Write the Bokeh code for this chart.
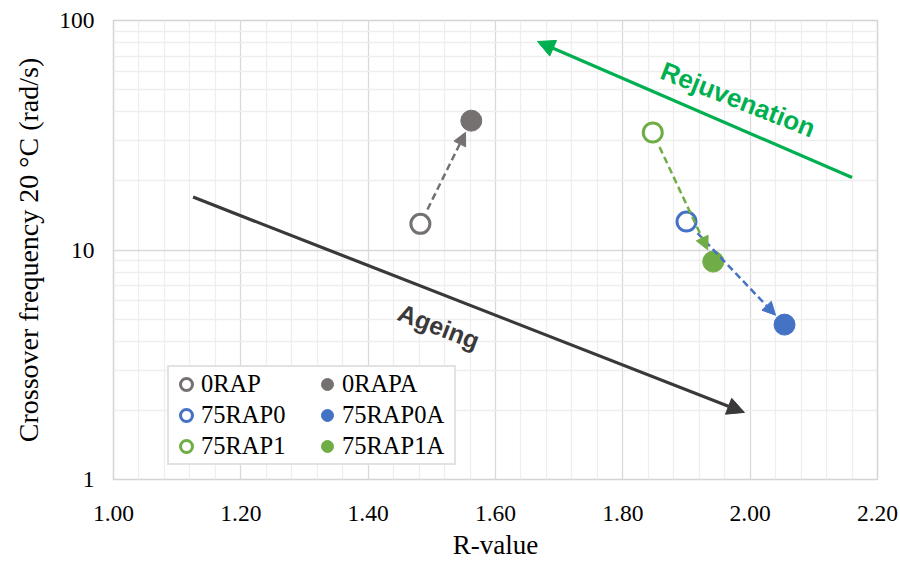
import math
from bokeh.plotting import figure
from bokeh.models import (FixedTicker, NumeralTickFormatter, Arrow, NormalHead,
                          Label, Legend, LegendItem, Range1d)
from bokeh.embed import file_html
from bokeh.resources import INLINE

# ---------------- data ----------------
samples = ["0RAP", "0RAPA", "75RAP0", "75RAP0A", "75RAP1", "75RAP1A"]
r_value = [1.482, 1.562, 1.900, 2.054, 1.847, 1.942]
crossover = [13.0, 36.6, 13.3, 4.73, 32.5, 8.9]
sample_colors = ["#767171", "#767171", "#4472c4", "#4472c4", "#70ad47", "#70ad47"]
sample_filled = [False, True, False, True, False, True]

# ageing pairs (unaged index -> aged index)
pairs = [(0, 1), (2, 3), (4, 5)]

x_ticks = [1.0, 1.2, 1.4, 1.6, 1.8, 2.0, 2.2]
y_ticks = [1, 10, 100]

# trend arrows (R-value, crossover frequency)
ageing_r = [1.125, 1.991]
ageing_f = [17.0, 1.96]
rejuv_r = [2.160, 1.666]
rejuv_f = [20.7, 81.0]

ageing_text = "Ageing"
ageing_text_pos = (1.511, 4.65)
rejuv_text = "Rejuvenation"
rejuv_text_pos = (1.981, 45.3)

x_title = "R-value"
y_title = "Crossover frequency 20 °C (rad/s)"

# ---------------- layout ----------------
X0, X1 = 1.0, 2.2
Y0, Y1 = 1.0, 100.0
FRAME_W, FRAME_H = 764, 459

x_minor = [round(X0 + 0.04 * i, 2) for i in range(31) if i % 5 != 0]
y_minor = [m * 10 ** e for e in (0, 1) for m in range(2, 10)]

p = figure(width=900, height=569, x_range=Range1d(X0, X1), y_range=Range1d(Y0, Y1),
           y_axis_type="log", output_backend="svg", toolbar_location=None,
           min_border_left=113, min_border_right=23, min_border_top=20,
           min_border_bottom=90)
p.background_fill_color = "white"
p.border_fill_color = "white"
p.outline_line_color = "#d4d4d4"
p.outline_line_width = 1.5

p.xaxis.ticker = FixedTicker(ticks=x_ticks, minor_ticks=x_minor)
p.xaxis.formatter = NumeralTickFormatter(format="0.00")
p.yaxis.ticker = FixedTicker(ticks=y_ticks, minor_ticks=y_minor)
p.yaxis.formatter = NumeralTickFormatter(format="0")

for ax in (p.xaxis[0], p.yaxis[0]):
    ax.axis_line_color = None
    ax.major_tick_line_color = None
    ax.minor_tick_line_color = None
    ax.major_tick_out = 0
    ax.major_label_text_font = "Liberation Serif"
    ax.major_label_text_font_size = "23.5px"
    ax.major_label_text_color = "#000000"
    ax.axis_label_text_font = "Liberation Serif"
    ax.axis_label_text_font_style = "normal"
    ax.axis_label_text_color = "#000000"
p.xaxis.major_label_standoff = 22
p.yaxis.major_label_standoff = 15

p.yaxis.axis_label = y_title
p.yaxis.axis_label_text_font_size = "28px"
p.yaxis.axis_label_standoff = 12

p.xaxis.axis_label = x_title
p.xaxis.axis_label_text_font_size = "27px"
p.xaxis.axis_label_standoff = 6

for g in (p.xgrid[0], p.ygrid[0]):
    g.grid_line_color = "#d9d9d9"
    g.grid_line_width = 1.3
    g.minor_grid_line_color = "#eeeeee"
    g.minor_grid_line_width = 1.3

# ---------------- helpers (px-space trimming of arrow ends) ----------------
def to_px(x, y):
    return ((x - X0) / (X1 - X0) * FRAME_W,
            (math.log10(y) - math.log10(Y0)) / (math.log10(Y1) - math.log10(Y0)) * FRAME_H)

def from_px(px, py):
    return (X0 + px / FRAME_W * (X1 - X0),
            10 ** (math.log10(Y0) + py / FRAME_H * (math.log10(Y1) - math.log10(Y0))))

def trim(xa, ya, xb, yb, r0, r1):
    ax, ay = to_px(xa, ya)
    bx, by = to_px(xb, yb)
    d = math.hypot(bx - ax, by - ay)
    ux, uy = (bx - ax) / d, (by - ay) / d
    s = from_px(ax + ux * r0, ay + uy * r0)
    e = from_px(bx - ux * r1, by - uy * r1)
    return s, e

# ---------------- dashed ageing arrows ----------------
for a, b in pairs:
    c = sample_colors[a]
    s, e = trim(r_value[a], crossover[a], r_value[b], crossover[b], 16, 13)
    p.add_layout(Arrow(x_start=s[0], y_start=s[1], x_end=e[0], y_end=e[1],
                       line_color=c, line_width=2.5, line_dash="7 4",
                       end=NormalHead(size=13, fill_color=c, line_color=c, line_width=1)))

# ---------------- markers + legend ----------------
items = {}
for name, x, y, c, f in zip(samples, r_value, crossover, sample_colors, sample_filled):
    if f:
        r = p.scatter(x=[x], y=[y], marker="circle", size=21, fill_color=c,
                      line_color=c, line_width=1)
    else:
        r = p.scatter(x=[x], y=[y], marker="circle", size=19, fill_color="white",
                      line_color=c, line_width=3)
    items[name] = r

legend = Legend(items=[LegendItem(label=n, renderers=[items[n]]) for n in samples],
                location=(54, 14), orientation="horizontal", ncols=2,
                glyph_width=30, glyph_height=30, label_standoff=0, label_width=110,
                spacing=1, padding=2, margin=0,
                label_text_font="Liberation Serif", label_text_font_size="24.5px",
                label_text_color="#000000", border_line_color="#c6c6c6",
                border_line_width=2, background_fill_color="white",
                background_fill_alpha=1.0)
p.add_layout(legend)

# ---------------- trend arrows ----------------
p.add_layout(Arrow(x_start=ageing_r[0], y_start=ageing_f[0], x_end=ageing_r[1], y_end=ageing_f[1],
                   line_color="#3a3838", line_width=3.2,
                   end=NormalHead(size=17, fill_color="#3a3838", line_color="#3a3838", line_width=1)))
p.add_layout(Arrow(x_start=rejuv_r[0], y_start=rejuv_f[0], x_end=rejuv_r[1], y_end=rejuv_f[1],
                   line_color="#00b050", line_width=3.2,
                   end=NormalHead(size=17, fill_color="#00b050", line_color="#00b050", line_width=1)))

p.add_layout(Label(x=ageing_text_pos[0], y=ageing_text_pos[1], text=ageing_text,
                   angle=-21, angle_units="deg", text_font="Liberation Sans",
                   text_font_style="bold", text_font_size="25px", text_color="#3a3838",
                   text_align="center", text_baseline="middle"))
p.add_layout(Label(x=rejuv_text_pos[0], y=rejuv_text_pos[1], text=rejuv_text,
                   angle=-21.5, angle_units="deg", text_font="Liberation Sans",
                   text_font_style="bold", text_font_size="26px", text_color="#00b050",
                   text_align="center", text_baseline="middle"))

open("out.html", "w").write(file_html(p, INLINE))
